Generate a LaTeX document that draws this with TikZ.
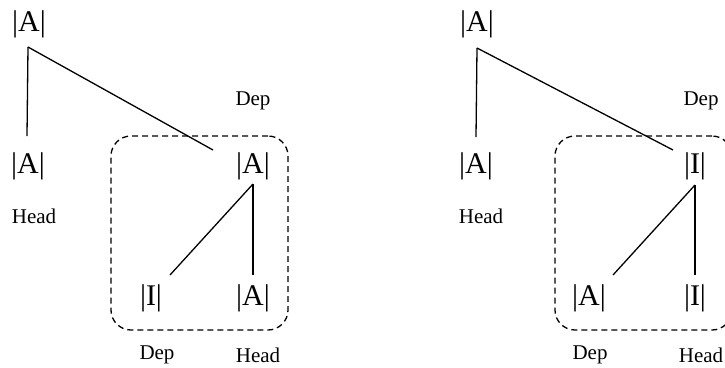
\documentclass[tikz,border=0pt]{standalone}
\usepackage{fontspec}
\setmainfont{Liberation Serif}
\begin{document}
\begin{tikzpicture}[x=1pt,y=-1pt,
  big/.style={inner sep=0pt,font=\fontsize{30}{32}\selectfont},
  lab/.style={inner sep=0pt,font=\fontsize{21}{23}\selectfont},
  edge/.style={line width=1.3pt},
  grp/.style={draw,dash pattern=on 6pt off 4pt,line width=1.3pt,rounded corners=20pt,minimum width=177pt,minimum height=194pt,inner sep=0pt}]
\useasboundingbox (0,0) rectangle (725,367);
% left tree
\node[big] (lt) at (29,24) {|A|};
\node[big] (lm) at (28,166) {|A|};
\node[lab] (lh) at (34,216) {Head};
\node[lab] (ld) at (253,101) {Dep};
\node[big] (lr) at (253,166) {|A|};
\node[big] (lbi) at (151,298) {|I|};
\node[big] (lba) at (253,298) {|A|};
\node[lab] (lbd) at (157,355) {Dep};
\node[lab] (lbh) at (258,355) {Head};
\node[grp] (lbox) at (199.5,233) {};
\draw[edge] ([shift={(-1pt,-23pt)}]lt.center) -- ([shift={(-1pt,30pt)}]lm.center);
\draw[edge] ([shift={(-1pt,-23pt)}]lt.center) -- ([shift={(-40pt,16pt)}]lr.center);
\draw[edge] ([yshift=-18pt]lr.center) -- ([yshift=23pt]lba.center);
\draw[edge] ([yshift=-18pt]lr.center) -- ([shift={(19pt,23pt)}]lbi.center);
% right tree
\node[big] (rt) at (477,24) {|A|};
\node[big] (rm) at (476,166) {|A|};
\node[lab] (rh) at (481,216) {Head};
\node[lab] (rd) at (701,101) {Dep};
\node[big] (rr) at (695,166) {|I|};
\node[big] (rba) at (589,298) {|A|};
\node[big] (rbi) at (695,298) {|I|};
\node[lab] (rbd) at (590,355) {Dep};
\node[lab] (rbh) at (701,355) {Head};
\node[grp] (rbox) at (643.5,233) {};
\draw[edge] ([yshift=-24pt]rt.center) -- ([yshift=29pt]rm.center);
\draw[edge] ([yshift=-24pt]rt.center) -- ([shift={(-22pt,16pt)}]rr.center);
\draw[edge] ([yshift=-19pt]rr.center) -- ([yshift=23pt]rbi.center);
\draw[edge] ([yshift=-19pt]rr.center) -- ([shift={(24pt,23pt)}]rba.center);
\end{tikzpicture}
\end{document}
